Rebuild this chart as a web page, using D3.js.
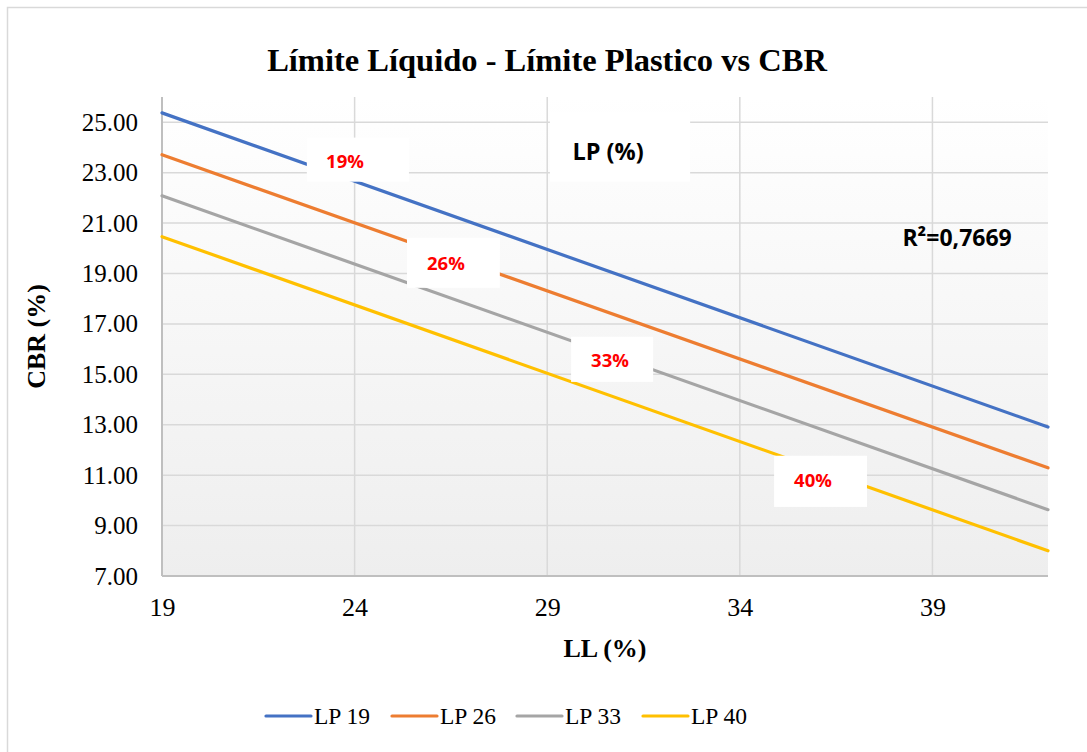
<!DOCTYPE html>
<html>
<head>
<meta charset="utf-8">
<script src="https://cdn.jsdelivr.net/npm/d3@7"></script>
<style>
  html, body { margin: 0; padding: 0; background: #ffffff; }
  svg { display: block; }
</style>
</head>
<body>
<svg id="chart" width="1087" height="752"></svg>
<script>
// ---- Data ----
const llValues = [19, 42];                 // LL (%) at the ends of each line
const seriesNames = ["LP 19", "LP 26", "LP 33", "LP 40"];
const lp19 = [25.37, 12.91];
const lp26 = [23.71, 11.29];
const lp33 = [22.08, 9.63];
const lp40 = [20.46, 8.00];
const xTicks = [19, 24, 29, 34, 39];
const yTicks = [7, 9, 11, 13, 15, 17, 19, 21, 23, 25];
const lineLabels = ["19%", "26%", "33%", "40%"];
const titleText = "Límite Líquido - Límite Plastico vs CBR";
const xTitle = "LL (%)";
const yTitle = "CBR (%)";
const boxTitle = "LP (%)";
const r2Text = "R²=0,7669";

// ---- Layout / style ----
const colors = ["#4472C4", "#ED7D31", "#A5A5A5", "#FFC000"];
const plot = { left: 162, right: 1048, top: 97, bottom: 576 };
const serif = "'Liberation Serif', 'Times New Roman', serif";
const sans = "'Open Sans', 'Noto Sans', sans-serif";

const svg = d3.select("#chart");

const x = d3.scaleLinear().domain([19, 42]).range([plot.left, plot.right]);
const y = d3.scaleLinear().domain([7, 26]).range([plot.bottom, plot.top]);

// outer border
svg.append("rect").attr("x", 7.5).attr("y", 7.5).attr("width", 1095).attr("height", 770)
  .attr("fill", "#ffffff").attr("stroke", "#d9d9d9").attr("stroke-width", 1.5);

// gradient plot background
const defs = svg.append("defs");
const grad = defs.append("linearGradient").attr("id", "bg").attr("x1", 0).attr("y1", 0).attr("x2", 0).attr("y2", 1);
grad.append("stop").attr("offset", "0%").attr("stop-color", "#ffffff");
grad.append("stop").attr("offset", "100%").attr("stop-color", "#eeeeee");
svg.append("rect").attr("x", plot.left).attr("y", plot.top)
  .attr("width", plot.right - plot.left).attr("height", plot.bottom - plot.top)
  .attr("fill", "url(#bg)");

// gridlines
const grid = svg.append("g").attr("stroke", "#d9d9d9").attr("stroke-width", 1.5);
yTicks.filter(v => v > 7).forEach(v => {
  grid.append("line").attr("x1", plot.left).attr("x2", plot.right)
    .attr("y1", y(v)).attr("y2", y(v));
});
xTicks.filter(v => v > 19).forEach(v => {
  grid.append("line").attr("x1", x(v)).attr("x2", x(v))
    .attr("y1", plot.top).attr("y2", plot.bottom);
});

// axes (D3 axes, styled)
const yAxis = svg.append("g").attr("transform", `translate(${plot.left},0)`)
  .call(d3.axisLeft(y).tickValues(yTicks).tickFormat(d3.format(".2f")).tickSize(0).tickPadding(24));
yAxis.select(".domain").attr("stroke", "#bfbfbf").attr("stroke-width", 2)
  .attr("d", `M0,${plot.top}V${plot.bottom}`);
yAxis.selectAll("text").attr("font-family", serif).attr("font-size", 25).attr("fill", "#000");

const xAxis = svg.append("g").attr("transform", `translate(0,${plot.bottom})`)
  .call(d3.axisBottom(x).tickValues(xTicks).tickFormat(d3.format("d")).tickSize(0).tickPadding(22));
xAxis.select(".domain").attr("stroke", "#bfbfbf").attr("stroke-width", 2)
  .attr("d", `M${plot.left},0H${plot.right}`);
xAxis.selectAll("text").attr("font-family", serif).attr("font-size", 26).attr("fill", "#000");

// lines
const allSeries = [lp19, lp26, lp33, lp40];
const lineGen = d3.line().x((d, i) => x(llValues[i])).y(d => y(d));
allSeries.forEach((s, i) => {
  svg.append("path").datum(s).attr("d", lineGen)
    .attr("fill", "none").attr("stroke", colors[i]).attr("stroke-width", 3.2)
    .attr("stroke-linecap", "round");
});

// annotation boxes (placed in data units)
const labelBoxes = [
  { text: lineLabels[0], x0: 22.76, x1: 25.41, y0: 24.39, y1: 22.64, tx: 23.75, ty: 23.48 },
  { text: lineLabels[1], x0: 25.36, x1: 27.77, y0: 20.42, y1: 18.43, tx: 26.37, ty: 19.42 },
  { text: lineLabels[2], x0: 29.62, x1: 31.75, y0: 16.49, y1: 14.70, tx: 30.63, ty: 15.57 },
  { text: lineLabels[3], x0: 34.89, x1: 37.30, y0: 11.77, y1: 9.74, tx: 35.90, ty: 10.82 }
];
labelBoxes.forEach(b => {
  svg.append("rect").attr("x", x(b.x0)).attr("y", y(b.y0))
    .attr("width", x(b.x1) - x(b.x0)).attr("height", y(b.y1) - y(b.y0))
    .attr("fill", "#ffffff");
  svg.append("text").attr("x", x(b.tx)).attr("y", y(b.ty))
    .attr("text-anchor", "middle").attr("dominant-baseline", "central")
    .attr("font-family", sans).attr("font-weight", "bold").attr("font-size", 18.5)
    .attr("fill", "#FF0000").text(b.text);
});

// "LP (%)" box
svg.append("rect").attr("x", x(29.07)).attr("y", y(25.41))
  .attr("width", x(32.71) - x(29.07)).attr("height", y(22.64) - y(25.41)).attr("fill", "#ffffff");
svg.append("text").attr("x", x(30.58)).attr("y", y(23.85))
  .attr("text-anchor", "middle").attr("dominant-baseline", "central")
  .attr("font-family", sans).attr("font-weight", "bold").attr("font-size", 23.5)
  .attr("fill", "#000").text(boxTitle);

// R² text
svg.append("text").attr("x", x(39.64)).attr("y", y(20.45))
  .attr("text-anchor", "middle").attr("dominant-baseline", "central")
  .attr("font-family", sans).attr("font-weight", "bold").attr("font-size", 23)
  .attr("fill", "#000").text(r2Text);

// titles
svg.append("text").attr("x", 547).attr("y", 71).attr("text-anchor", "middle")
  .attr("font-family", serif).attr("font-weight", "bold").attr("font-size", 32.5)
  .attr("fill", "#000").text(titleText);
svg.append("text").attr("x", (plot.left + plot.right) / 2).attr("y", 657).attr("text-anchor", "middle")
  .attr("font-family", serif).attr("font-weight", "bold").attr("font-size", 26)
  .attr("fill", "#000").text(xTitle);
svg.append("text").attr("transform", `translate(45,${(plot.top + plot.bottom) / 2}) rotate(-90)`)
  .attr("text-anchor", "middle")
  .attr("font-family", serif).attr("font-weight", "bold").attr("font-size", 26)
  .attr("fill", "#000").text(yTitle);

// legend
const legendX = [266, 392, 517, 643];
const lg = svg.append("g");
seriesNames.forEach((n, i) => {
  lg.append("line").attr("x1", legendX[i]).attr("x2", legendX[i] + 45)
    .attr("y1", 716).attr("y2", 716)
    .attr("stroke", colors[i]).attr("stroke-width", 3.2).attr("stroke-linecap", "round");
  lg.append("text").attr("x", legendX[i] + 48).attr("y", 724)
    .attr("font-family", serif).attr("font-size", 23.5).attr("fill", "#000").text(n);
});
</script>
</body>
</html>
